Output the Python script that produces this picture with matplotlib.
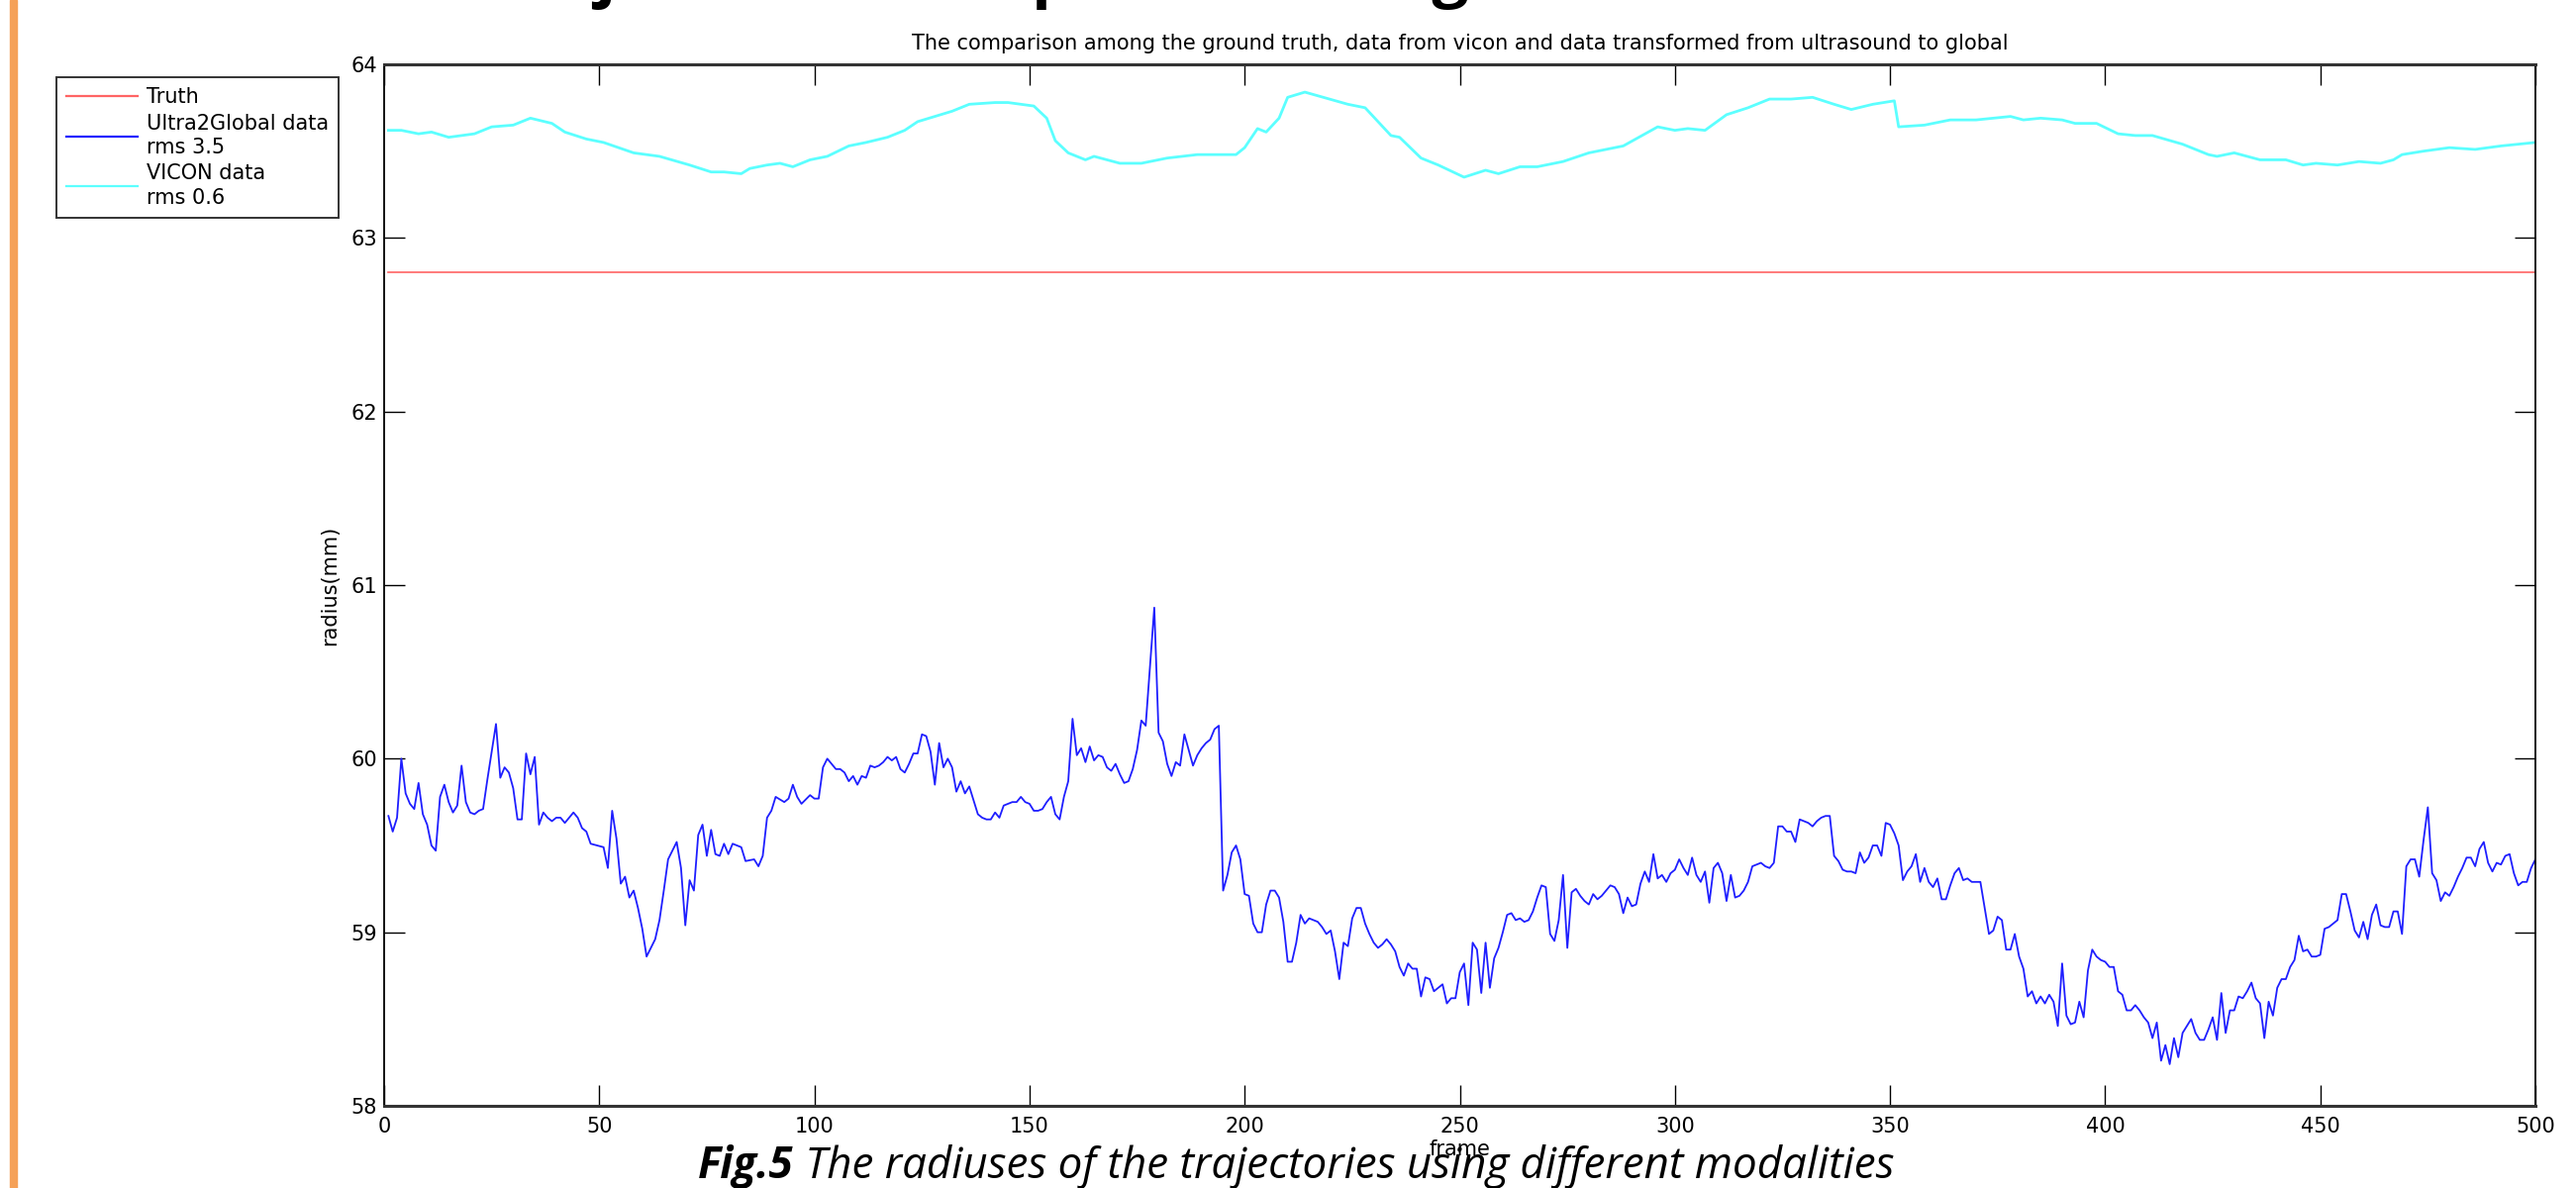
import matplotlib
matplotlib.use('Agg')
import matplotlib.pyplot as plt
from matplotlib import font_manager
from matplotlib.font_manager import FontProperties
from matplotlib.patches import Rectangle

# ground truth radius (mm)
truth_frames = [1, 500]
truth_radius = [62.8, 62.8]

# radius from ultrasound data transformed to the global frame
ultra_frames = [
    1, 2, 3, 4, 5, 6, 7, 8, 9, 10, 11, 12, 13, 14, 15, 16, 17, 18, 19, 20,
    21, 22, 23, 24, 26, 27, 28, 29, 30, 31, 32, 33, 34, 35, 36, 37, 38, 39, 40, 41,
    42, 44, 45, 46, 47, 48, 51, 52, 53, 54, 55, 56, 57, 58, 59, 60, 61, 63, 64, 65,
    66, 68, 69, 70, 71, 72, 73, 74, 75, 76, 77, 78, 79, 80, 81, 83, 84, 86, 87, 88,
    89, 90, 91, 93, 94, 95, 96, 97, 99, 100, 101, 102, 103, 104, 105, 106, 107, 108, 109, 110,
    111, 112, 113, 114, 115, 116, 117, 118, 119, 120, 121, 122, 123, 124, 125, 126, 127, 128, 129, 130,
    131, 132, 133, 134, 135, 136, 137, 138, 139, 140, 141, 142, 143, 144, 145, 146, 147, 148, 149, 150,
    151, 152, 153, 154, 155, 156, 157, 158, 159, 160, 161, 162, 163, 164, 165, 166, 167, 168, 169, 170,
    171, 172, 173, 174, 175, 176, 177, 179, 180, 181, 182, 183, 184, 185, 186, 187, 188, 189, 190, 191,
    192, 193, 194, 195, 196, 197, 198, 199, 200, 201, 202, 203, 204, 205, 206, 207, 208, 209, 210, 211,
    212, 213, 214, 215, 216, 217, 218, 219, 220, 221, 222, 223, 224, 225, 226, 227, 228, 229, 230, 231,
    232, 233, 234, 235, 236, 237, 238, 239, 240, 241, 242, 243, 244, 245, 246, 247, 248, 249, 250, 251,
    252, 253, 254, 255, 256, 257, 258, 259, 260, 261, 262, 263, 264, 265, 266, 267, 268, 269, 270, 271,
    272, 273, 274, 275, 276, 277, 278, 279, 280, 281, 282, 283, 284, 285, 286, 287, 288, 289, 290, 291,
    292, 293, 294, 295, 296, 297, 298, 299, 300, 301, 302, 303, 304, 305, 306, 307, 308, 309, 310, 311,
    312, 313, 314, 315, 316, 317, 318, 319, 320, 321, 322, 323, 324, 325, 326, 327, 328, 329, 330, 331,
    332, 333, 334, 335, 336, 337, 338, 339, 340, 341, 342, 343, 344, 345, 346, 347, 348, 349, 350, 351,
    352, 353, 354, 355, 356, 357, 358, 359, 360, 361, 362, 363, 364, 365, 366, 367, 368, 369, 370, 371,
    372, 373, 374, 375, 376, 377, 378, 379, 380, 381, 382, 383, 384, 385, 386, 387, 388, 389, 390, 391,
    392, 393, 394, 395, 396, 397, 398, 399, 400, 401, 402, 403, 404, 405, 406, 407, 408, 409, 410, 411,
    412, 413, 414, 415, 416, 417, 418, 420, 421, 422, 423, 424, 425, 426, 427, 428, 429, 430, 431, 432,
    433, 434, 435, 436, 437, 438, 439, 440, 441, 442, 443, 444, 445, 446, 447, 448, 449, 450, 451, 452,
    453, 454, 455, 456, 457, 458, 459, 460, 461, 462, 463, 464, 465, 466, 467, 468, 469, 470, 471, 472,
    473, 474, 475, 476, 477, 478, 479, 480, 481, 482, 483, 484, 485, 486, 487, 488, 489, 490, 491, 492,
    493, 494, 495, 496, 497, 498, 499, 500,
]
ultra_radius = [
    59.67, 59.58, 59.66, 60.00, 59.80, 59.74, 59.71, 59.86, 59.68, 59.62, 59.50, 59.47, 59.78, 59.85, 59.75, 59.69, 59.73, 59.96, 59.75, 59.69,
    59.68, 59.70, 59.71, 59.88, 60.20, 59.89, 59.95, 59.92, 59.83, 59.65, 59.65, 60.03, 59.91, 60.01, 59.62, 59.69, 59.66, 59.64, 59.66, 59.66,
    59.63, 59.69, 59.66, 59.60, 59.58, 59.51, 59.49, 59.37, 59.70, 59.54, 59.28, 59.32, 59.20, 59.24, 59.14, 59.02, 58.86, 58.96, 59.07, 59.24,
    59.42, 59.52, 59.37, 59.04, 59.30, 59.24, 59.56, 59.62, 59.44, 59.59, 59.45, 59.44, 59.51, 59.45, 59.51, 59.49, 59.41, 59.42, 59.38, 59.44,
    59.66, 59.70, 59.78, 59.75, 59.77, 59.85, 59.78, 59.74, 59.79, 59.77, 59.77, 59.95, 60.00, 59.97, 59.94, 59.94, 59.92, 59.87, 59.90, 59.85,
    59.90, 59.89, 59.96, 59.95, 59.96, 59.98, 60.01, 59.99, 60.01, 59.94, 59.92, 59.97, 60.03, 60.03, 60.14, 60.13, 60.04, 59.85, 60.09, 59.95,
    60.00, 59.95, 59.81, 59.87, 59.80, 59.84, 59.76, 59.68, 59.66, 59.65, 59.65, 59.69, 59.66, 59.73, 59.74, 59.75, 59.75, 59.78, 59.75, 59.74,
    59.70, 59.70, 59.71, 59.75, 59.78, 59.68, 59.65, 59.78, 59.87, 60.23, 60.02, 60.06, 59.98, 60.07, 59.99, 60.02, 60.01, 59.95, 59.93, 59.97,
    59.91, 59.86, 59.87, 59.94, 60.05, 60.22, 60.19, 60.87, 60.15, 60.10, 59.97, 59.90, 59.98, 59.96, 60.14, 60.05, 59.96, 60.02, 60.06, 60.09,
    60.11, 60.17, 60.19, 59.24, 59.33, 59.46, 59.50, 59.42, 59.22, 59.21, 59.05, 59.00, 59.00, 59.16, 59.24, 59.24, 59.20, 59.06, 58.83, 58.83,
    58.94, 59.10, 59.05, 59.08, 59.07, 59.06, 59.03, 58.99, 59.01, 58.89, 58.73, 58.94, 58.92, 59.08, 59.14, 59.14, 59.05, 58.99, 58.94, 58.91,
    58.93, 58.96, 58.93, 58.89, 58.80, 58.75, 58.82, 58.79, 58.79, 58.63, 58.74, 58.73, 58.66, 58.68, 58.70, 58.59, 58.62, 58.62, 58.77, 58.82,
    58.58, 58.94, 58.90, 58.65, 58.94, 58.68, 58.85, 58.91, 59.00, 59.10, 59.11, 59.07, 59.08, 59.06, 59.07, 59.12, 59.20, 59.27, 59.26, 58.99,
    58.95, 59.07, 59.33, 58.91, 59.23, 59.25, 59.21, 59.18, 59.16, 59.22, 59.19, 59.21, 59.24, 59.27, 59.26, 59.22, 59.11, 59.20, 59.15, 59.16,
    59.28, 59.35, 59.29, 59.45, 59.31, 59.33, 59.29, 59.34, 59.36, 59.42, 59.37, 59.33, 59.43, 59.33, 59.29, 59.35, 59.17, 59.37, 59.40, 59.34,
    59.18, 59.33, 59.20, 59.21, 59.24, 59.29, 59.38, 59.39, 59.40, 59.38, 59.37, 59.40, 59.61, 59.61, 59.58, 59.58, 59.52, 59.65, 59.64, 59.63,
    59.61, 59.64, 59.66, 59.67, 59.67, 59.44, 59.41, 59.36, 59.35, 59.35, 59.34, 59.46, 59.40, 59.43, 59.50, 59.50, 59.44, 59.63, 59.62, 59.57,
    59.50, 59.30, 59.35, 59.38, 59.45, 59.29, 59.37, 59.29, 59.26, 59.31, 59.19, 59.19, 59.27, 59.34, 59.37, 59.30, 59.31, 59.29, 59.29, 59.29,
    59.14, 58.99, 59.01, 59.09, 59.07, 58.90, 58.90, 58.99, 58.86, 58.79, 58.63, 58.66, 58.59, 58.63, 58.59, 58.64, 58.60, 58.46, 58.82, 58.52,
    58.47, 58.48, 58.60, 58.51, 58.78, 58.90, 58.86, 58.84, 58.83, 58.80, 58.80, 58.66, 58.64, 58.55, 58.55, 58.58, 58.55, 58.51, 58.48, 58.39,
    58.48, 58.26, 58.35, 58.24, 58.39, 58.28, 58.42, 58.50, 58.42, 58.38, 58.38, 58.44, 58.51, 58.38, 58.65, 58.42, 58.55, 58.55, 58.63, 58.62,
    58.66, 58.71, 58.62, 58.59, 58.39, 58.60, 58.52, 58.68, 58.73, 58.73, 58.80, 58.84, 58.98, 58.89, 58.90, 58.86, 58.86, 58.87, 59.02, 59.03,
    59.05, 59.07, 59.22, 59.22, 59.12, 59.01, 58.97, 59.06, 58.96, 59.10, 59.16, 59.04, 59.03, 59.03, 59.12, 59.12, 58.99, 59.38, 59.42, 59.42,
    59.32, 59.53, 59.72, 59.34, 59.30, 59.18, 59.23, 59.21, 59.26, 59.32, 59.37, 59.43, 59.43, 59.38, 59.48, 59.52, 59.40, 59.35, 59.40, 59.39,
    59.44, 59.45, 59.34, 59.27, 59.29, 59.29, 59.37, 59.42,
]

# radius measured by the VICON system
vicon_frames = [
    1, 4, 8, 11, 15, 21, 25, 30, 34, 39, 42, 47, 51, 58, 64, 71, 76, 79, 83, 85,
    89, 92, 95, 99, 103, 108, 112, 117, 121, 124, 128, 132, 136, 142, 145, 151, 154, 156, 159, 163,
    165, 171, 176, 182, 189, 193, 198, 200, 203, 205, 208, 210, 214, 224, 228, 234, 236, 241, 245, 251,
    256, 259, 264, 268, 274, 280, 288, 296, 300, 303, 307, 312, 317, 322, 327, 332, 337, 341, 346, 351,
    352, 358, 364, 370, 378, 381, 385, 390, 393, 398, 403, 407, 411, 418, 424, 426, 430, 436, 442, 446,
    449, 454, 459, 464, 467, 469, 474, 480, 486, 492, 500,
]
vicon_radius = [
    63.62, 63.62, 63.60, 63.61, 63.58, 63.60, 63.64, 63.65, 63.69, 63.66, 63.61, 63.57, 63.55, 63.49, 63.47, 63.42, 63.38, 63.38, 63.37, 63.40,
    63.42, 63.43, 63.41, 63.45, 63.47, 63.53, 63.55, 63.58, 63.62, 63.67, 63.70, 63.73, 63.77, 63.78, 63.78, 63.76, 63.69, 63.56, 63.49, 63.45,
    63.47, 63.43, 63.43, 63.46, 63.48, 63.48, 63.48, 63.52, 63.63, 63.61, 63.69, 63.81, 63.84, 63.77, 63.75, 63.59, 63.58, 63.46, 63.42, 63.35,
    63.39, 63.37, 63.41, 63.41, 63.44, 63.49, 63.53, 63.64, 63.62, 63.63, 63.62, 63.71, 63.75, 63.80, 63.80, 63.81, 63.77, 63.74, 63.77, 63.79,
    63.64, 63.65, 63.68, 63.68, 63.70, 63.68, 63.69, 63.68, 63.66, 63.66, 63.60, 63.59, 63.59, 63.54, 63.48, 63.47, 63.49, 63.45, 63.45, 63.42,
    63.43, 63.42, 63.44, 63.43, 63.45, 63.48, 63.50, 63.52, 63.51, 63.53, 63.55,
]

series_labels = ['Truth', 'Ultra2Global data\nrms 3.5', 'VICON data\nrms 0.6']
x_ticks = list(range(0, 501, 50))
y_ticks = list(range(58, 65))

plot_title = ('The comparison among the ground truth, data from vicon and data '
              'transformed from ultrasound to global')
caption_tag = 'Fig.5'
caption_text = ' The radiuses of the trajectories using different modalities'
heading_text = 'Trajectories comparison using different modalities'


def pick_family(candidates, style):
    faces = {(f.name, f.style) for f in font_manager.fontManager.ttflist}
    for name in candidates:
        if (name, style) in faces:
            return name
    return 'DejaVu Sans'


plt.rcParams['font.family'] = ['DejaVu Sans']
cap_font = pick_family(['Open Sans', 'Noto Sans', 'Lato', 'DejaVu Sans'], 'italic')

W, H = 2602, 1200
fig = plt.figure(figsize=(W / 100, H / 100), dpi=100)
ax = fig.add_axes([388 / W, 1 - 1117 / H, (2561 - 388) / W, (1117 - 65) / H])

ax.plot(truth_frames, truth_radius, color='#ff6464', lw=1.2, label=series_labels[0])
ax.plot(ultra_frames, ultra_radius, color='#1e1eff', lw=1.3, label=series_labels[1])
ax.plot(vicon_frames, vicon_radius, color='#5cffff', lw=2.0, label=series_labels[2])

ax.set_xlim(0, 500)
ax.set_ylim(58, 64)
ax.set_xticks(x_ticks)
ax.set_yticks(y_ticks)
ax.tick_params(direction='in', length=15, width=1.0, top=True, right=True,
               labelsize=15, colors='black')
ax.tick_params(axis='x', pad=8)
ax.tick_params(axis='y', pad=5)
for side in ['top', 'bottom']:
    ax.spines[side].set_linewidth(2.2)
    ax.spines[side].set_color('#333333')
for side in ['left', 'right']:
    ax.spines[side].set_linewidth(1.3)
    ax.spines[side].set_color('black')

ax.set_title(plot_title, fontsize=15, pad=11)
ax.set_xlabel('frame', fontsize=15, labelpad=2)
ax.set_ylabel('radius(mm)', fontsize=15, labelpad=8)

leg = fig.legend(loc='upper left', bbox_to_anchor=(57 / W, 1 - 78 / H),
                 fontsize=15, frameon=True, fancybox=False, edgecolor='black',
                 borderaxespad=0, borderpad=0.5, handlelength=3.45,
                 handletextpad=0.4, labelspacing=0.3)
leg.get_frame().set_linewidth(1.4)
for t in leg.get_texts():
    t.set_linespacing(1.28)
for line in leg.get_lines():
    line.set_linewidth(1.6)

# orange slide bar on the left edge
fig.patches.append(Rectangle((10 / W, 0), 7 / W, 1, transform=fig.transFigure,
                             color='#f5a158', zorder=5))

renderer = fig.canvas.get_renderer()


def text_width(s, props):
    return renderer.get_text_width_height_descent(s, props, ismath=False)[0]


# slide heading running off the top edge: only its descenders remain visible
probe = FontProperties(family=cap_font, weight='bold', size=40)
ji, pi_ = heading_text.index('j'), heading_text.index('p')
j_mid = (text_width(heading_text[:ji], probe) + text_width(heading_text[:ji + 1], probe)) / 2
p_mid = (text_width(heading_text[:pi_], probe) + text_width(heading_text[:pi_ + 1], probe)) / 2
head_size = 40 * 450 / (p_mid - j_mid)
head_props = FontProperties(family=cap_font, weight='bold', size=head_size)
j_descent = renderer.get_text_width_height_descent('j', head_props, ismath=False)[2]
head_x = 612 - j_mid * head_size / 40
fig.text(head_x / W, 1 + (j_descent - 10) / H, heading_text, fontproperties=head_props,
         va='baseline', ha='left')

# figure caption: bold tag followed by italic description, fitted to its span
tag_probe = FontProperties(family=cap_font, weight='bold', style='italic', size=27)
txt_probe = FontProperties(family=cap_font, style='italic', size=27)
span = text_width(caption_tag, tag_probe) + text_width(caption_text, txt_probe)
cap_size = 27 * (1914 - 705) / span
tag = fig.text(705 / W, 1 - 1190 / H, caption_tag, fontsize=cap_size, fontweight='bold',
               style='italic', family=cap_font, va='baseline', ha='left')
bb = tag.get_window_extent(renderer)
fig.text(bb.x1 / W, 1 - 1190 / H, caption_text, fontsize=cap_size, style='italic',
         family=cap_font, va='baseline', ha='left')

fig.savefig('out.png', dpi=100)
